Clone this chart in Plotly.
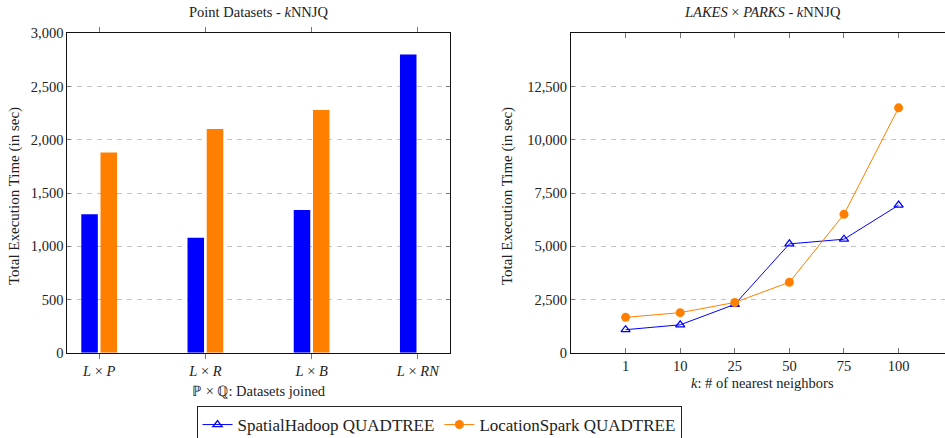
import plotly.graph_objects as go

# ---- data -------------------------------------------------------------
join_labels = ["<i>L</i> × <i>P</i>", "<i>L</i> × <i>R</i>",
               "<i>L</i> × <i>B</i>", "<i>L</i> × <i>RN</i>"]
hadoop_join_times = [1300, 1080, 1340, 2800]
spark_join_times = [1880, 2100, 2280, None]

k_labels = ["1", "10", "25", "50", "75", "100"]
hadoop_k_times = [1080, 1310, 2270, 5110, 5330, 6930]
spark_k_times = [1660, 1880, 2360, 3310, 6500, 11500]

left_ticks = [0, 500, 1000, 1500, 2000, 2500, 3000]
right_ticks = [0, 2500, 5000, 7500, 10000, 12500]

# ---- styling ----------------------------------------------------------
BLUE = "#0000FF"
ORANGE = "#FF8000"
FONT = "Liberation Serif"
TXT = "#222222"
W, H = 945, 438

fig = go.Figure()

fig.add_trace(go.Bar(x=join_labels, y=hadoop_join_times, marker_color=BLUE,
                     marker_line_width=0, showlegend=False,
                     xaxis="x", yaxis="y"))
fig.add_trace(go.Bar(x=join_labels, y=spark_join_times, marker_color=ORANGE,
                     marker_line_width=0, showlegend=False,
                     xaxis="x", yaxis="y"))

fig.add_trace(go.Scatter(x=k_labels, y=hadoop_k_times, mode="lines+markers",
                         name="SpatialHadoop QUADTREE",
                         line=dict(color=BLUE, width=1),
                         marker=dict(symbol="triangle-up-open", size=8,
                                     color=BLUE, line=dict(width=1.3, color=BLUE)),
                         xaxis="x2", yaxis="y2"))
fig.add_trace(go.Scatter(x=k_labels, y=spark_k_times, mode="lines+markers",
                         name="LocationSpark QUADTREE",
                         line=dict(color=ORANGE, width=1),
                         marker=dict(symbol="circle", size=9, color=ORANGE),
                         xaxis="x2", yaxis="y2"))

y_dom = [1 - 352.7 / H, 1 - 33.3 / H]
tick_font = dict(family=FONT, size=14.5, color=TXT)
axis_common = dict(showline=True, linecolor="#111111", linewidth=1,
                   zeroline=False, tickcolor="#777777", tickfont=tick_font)
grid = dict(showgrid=True, gridcolor="#c4c4c4", gridwidth=1, griddash="5px,5px")

fig.update_layout(
    width=W, height=H,
    margin=dict(l=0, r=0, t=0, b=0, autoexpand=False),
    paper_bgcolor="white", plot_bgcolor="white",
    barmode="group", bargap=0.638, bargroupgap=0.14,
    font=dict(family=FONT, size=14, color=TXT),
    xaxis=dict(domain=[67.3 / W, 449.7 / W], range=[-0.3, 3.3],
               type="category", ticks="outside", mirror="ticks", ticklen=5,
               showgrid=False, **axis_common),
    yaxis=dict(domain=y_dom, range=[0, 3000], tickvals=left_ticks,
               tickformat=",", ticks="inside", mirror="ticks", ticklen=4,
               **grid, **axis_common),
    xaxis2=dict(domain=[571 / W, 1.0], range=[-1, 5.85], type="category",
                ticks="inside", mirror="ticks", ticklen=5, showgrid=False,
                anchor="y2", **axis_common),
    yaxis2=dict(domain=y_dom, range=[0, 15000], tickvals=right_ticks,
                tickformat=",", ticks="inside", mirror=False, ticklen=4,
                anchor="x2", **grid, **axis_common),
    legend=dict(orientation="h", x=439 / W, xanchor="center",
                y=1 - 406 / H, yanchor="top",
                bordercolor="#222222", borderwidth=1,
                font=dict(family=FONT, size=17, color=TXT),
                itemwidth=30, tracegroupgap=0),
)

def note(text, x, y, size=14.5, angle=0):
    fig.add_annotation(text=text, x=x / W, y=1 - y / H, xref="paper", yref="paper",
                       showarrow=False, textangle=angle,
                       font=dict(family=FONT, size=size, color=TXT),
                       xanchor="center", yanchor="middle")

note("Point Datasets - <i>k</i>NNJQ", 258.5, 12, size=14.5)
note("<i>LAKES</i> × <i>PARKS</i> - <i>k</i>NNJQ", 762, 12, size=14.5)
note("Total Execution Time (in sec)", 14, 196, size=15, angle=-90)
note("Total Execution Time (in sec)", 507, 196, size=15, angle=-90)
note("ℙ × ℚ: Datasets joined", 258.5, 391)
note("<i>k</i>: # of nearest neighbors", 762, 383)

fig.write_html("out.html")
